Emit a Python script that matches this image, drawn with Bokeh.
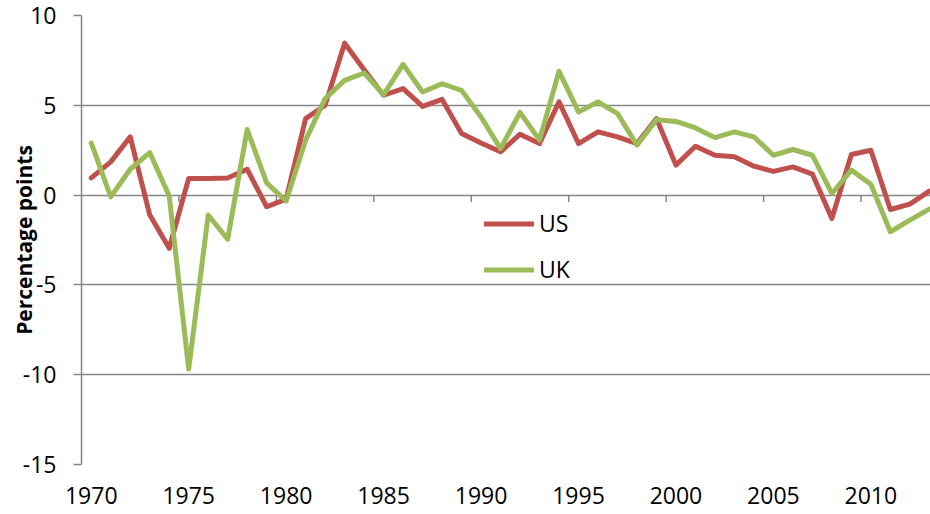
from bokeh.plotting import figure
from bokeh.models import Range1d, FixedTicker, Legend, LegendItem, ColumnDataSource
from bokeh.embed import file_html
from bokeh.resources import INLINE

years = list(range(1970, 2014))
us = [0.96, 1.85, 3.24, -1.10, -2.96, 0.93, 0.93, 0.95, 1.44, -0.65,
      -0.22, 4.26, 5.00, 8.46, 6.98, 5.56, 5.93, 4.94, 5.33, 3.43,
      2.90, 2.41, 3.39, 2.87, 5.19, 2.87, 3.52, 3.24, 2.87, 4.26,
      1.67, 2.72, 2.22, 2.13, 1.61, 1.32, 1.57, 1.17, -1.30, 2.26,
      2.50, -0.80, -0.50, 0.22]
uk = [2.90, -0.10, 1.44, 2.37, -0.05, -9.68, -1.11, -2.46, 3.65, 0.68,
      -0.33, 3.06, 5.37, 6.39, 6.80, 5.60, 7.28, 5.74, 6.20, 5.83,
      4.35, 2.59, 4.60, 3.06, 6.89, 4.63, 5.19, 4.54, 2.78, 4.20,
      4.10, 3.74, 3.20, 3.52, 3.24, 2.22, 2.54, 2.22, 0.09, 1.39,
      0.60, -2.04, -1.39, -0.78]
x_ticks = [1970, 1975, 1980, 1985, 1990, 1995, 2000, 2005, 2010]
y_ticks = [-15, -10, -5, 0, 5, 10]
series_names = ["US", "UK"]
series_colors = ["#C0504D", "#9BBB59"]
y_title = "Percentage points"

GRAY = "#868686"
FONT = "Open Sans"

src = ColumnDataSource(dict(year=years, us=us, uk=uk))

W, H = 930, 512
LEFT, TOP, BOTTOM = 81, 15, 48
px_per_year = 19.49
x_start = years[0] - 0.5
x_end = x_start + (W - LEFT) / px_per_year

p = figure(width=W, height=H, output_backend="svg", toolbar_location=None,
           x_range=Range1d(x_start, x_end), y_range=Range1d(y_ticks[0], y_ticks[-1]),
           min_border_left=LEFT, min_border_right=0, min_border_top=TOP,
           min_border_bottom=BOTTOM)
p.outline_line_color = None
p.background_fill_color = "white"
p.border_fill_color = "white"

# grid
p.xgrid.grid_line_color = None
p.ygrid.ticker = FixedTicker(ticks=y_ticks)
p.ygrid.grid_line_color = GRAY
p.ygrid.grid_line_width = 1.5

# y axis
p.yaxis.ticker = FixedTicker(ticks=y_ticks)
p.yaxis.major_label_overrides = {t: str(t) for t in y_ticks}
p.yaxis.axis_line_color = GRAY
p.yaxis.axis_line_width = 1.5
p.yaxis.major_tick_line_color = GRAY
p.yaxis.major_tick_line_width = 1.5
p.yaxis.major_tick_out = 8
p.yaxis.major_tick_in = 0
p.yaxis.minor_tick_line_color = None
p.yaxis.major_label_standoff = 17
p.yaxis.major_label_text_font = FONT
p.yaxis.major_label_text_font_size = "23px"
p.yaxis.major_label_text_color = "black"
p.yaxis.axis_label = y_title
p.yaxis.axis_label_text_font = FONT
p.yaxis.axis_label_text_font_style = "bold"
p.yaxis.axis_label_text_font_size = "21px"
p.yaxis.axis_label_text_color = "black"
p.yaxis.axis_label_standoff = -18

# x axis (labels only, at bottom)
p.xaxis.ticker = FixedTicker(ticks=x_ticks)
p.xaxis.axis_line_color = None
p.xaxis.major_tick_line_color = None
p.xaxis.minor_tick_line_color = None
p.xaxis.major_label_standoff = 16
p.xaxis.major_label_text_font = FONT
p.xaxis.major_label_text_font_size = "23px"
p.xaxis.major_label_text_color = "black"

# tick marks on the zero line at category boundaries
frame_h = H - TOP - BOTTOM
tick_len = 7 * (y_ticks[-1] - y_ticks[0]) / frame_h
bounds = [t - 0.5 for t in x_ticks[1:]]
p.segment(x0=bounds, y0=[0] * len(bounds), x1=bounds, y1=[-tick_len] * len(bounds),
          line_color=GRAY, line_width=1.5)

r_us = p.line("year", "us", source=src, line_color=series_colors[0], line_width=5,
              line_join="round", line_cap="round")
r_uk = p.line("year", "uk", source=src, line_color=series_colors[1], line_width=5,
              line_join="round", line_cap="round")

legend = Legend(items=[LegendItem(label=series_names[0], renderers=[r_us]),
                       LegendItem(label=series_names[1], renderers=[r_uk])],
                location=(403, 179), orientation="vertical",
                glyph_width=50, glyph_height=31, label_height=31, spacing=14,
                padding=0, margin=0,
                label_standoff=5, label_text_font=FONT, label_text_font_size="23px",
                label_text_color="black", background_fill_alpha=0,
                border_line_color=None)
p.add_layout(legend, "center")

open("out.html", "w").write(file_html(p, INLINE))
